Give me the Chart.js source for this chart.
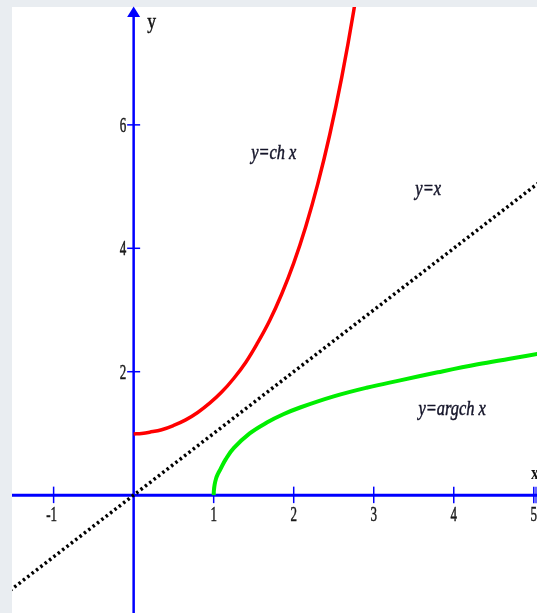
<!DOCTYPE html>
<html>
<head>
<meta charset="utf-8">
<script src="https://cdn.jsdelivr.net/npm/chart.js@4"></script>
<style>
html,body{margin:0;padding:0;background:#fff;}
#wrap{position:relative;width:537px;height:613px;overflow:hidden;}
</style>
</head>
<body>
<div id="wrap"><canvas id="c" width="537" height="613"></canvas></div>
<script>
// Values
const chX = [0, 0.1, 0.2, 0.35, 0.5, 0.65, 0.8, 0.95, 1.1, 1.25, 1.4, 1.55, 1.7, 1.85, 2.0, 2.15, 2.3, 2.45, 2.6, 2.75, 2.9];
const chY = [0.99, 1.0, 1.02, 1.06, 1.13, 1.22, 1.34, 1.49, 1.67, 1.89, 2.15, 2.47, 2.83, 3.26, 3.76, 4.35, 5.04, 5.84, 6.77, 7.85, 9.1];
const argchX = [1, 1.003, 1.012, 1.03, 1.055, 1.08, 1.15, 1.25, 1.45, 1.67, 1.87, 2.08, 2.5, 2.91, 3.33, 3.8, 4.3, 4.7, 5.1];
const argchY = [0, 0.08, 0.17, 0.27, 0.35, 0.41, 0.58, 0.76, 1.0, 1.18, 1.31, 1.42, 1.60, 1.74, 1.86, 1.99, 2.12, 2.21, 2.30];
const idX = [-1.6, 5.1];
const idY = [-1.6, 5.1];
const xTicks = [-1, 1, 2, 3, 4, 5];
const yTicks = [2, 4, 6];
const labels = [
  {text: 'y=ch x', x: 1.75, y: 5.53},
  {text: 'y=x', x: 3.68, y: 4.96},
  {text: 'y=argch x', x: 3.98, y: 1.39}
];

const pts = (xs, ys) => xs.map((x, i) => ({x: x, y: ys[i]}));

const bgPlugin = {
  id: 'bg',
  beforeDraw(chart) {
    const ctx = chart.ctx, a = chart.chartArea;
    ctx.save();
    ctx.fillStyle = '#e9edf1';
    ctx.fillRect(0, 0, chart.width, chart.height);
    ctx.fillStyle = '#ffffff';
    ctx.fillRect(a.left, a.top, a.right - a.left, a.bottom - a.top);
    ctx.restore();
  }
};

function scaledText(ctx, text, x, y, font, sx, align, thick) {
  ctx.save();
  ctx.font = font;
  ctx.translate(x, y);
  ctx.scale(sx, 1);
  ctx.textAlign = align || 'center';
  ctx.textBaseline = 'middle';
  ctx.fillText(text, 0, 0);
  if (thick) {
    ctx.strokeStyle = ctx.fillStyle;
    ctx.lineWidth = thick;
    ctx.strokeText(text, 0, 0);
  }
  ctx.restore();
}

const axesPlugin = {
  id: 'axes',
  beforeDatasetsDraw(chart) {
    const ctx = chart.ctx, xs = chart.scales.x, ys = chart.scales.y, a = chart.chartArea;
    const x0 = xs.getPixelForValue(0), y0 = ys.getPixelForValue(0);
    ctx.save();
    ctx.strokeStyle = '#0000ff';
    ctx.fillStyle = '#0000ff';
    // x axis
    ctx.lineWidth = 3;
    ctx.beginPath(); ctx.moveTo(a.left, y0); ctx.lineTo(chart.width, y0); ctx.stroke();
    // y axis
    ctx.lineWidth = 2.5;
    ctx.beginPath(); ctx.moveTo(x0, chart.height); ctx.lineTo(x0, a.top + 8); ctx.stroke();
    // arrow head
    ctx.beginPath();
    ctx.moveTo(x0, a.top - 0.5);
    ctx.lineTo(x0 - 6.5, a.top + 10);
    ctx.lineTo(x0 + 6.5, a.top + 10);
    ctx.closePath(); ctx.fill();
    // ticks
    ctx.lineWidth = 1.5;
    xTicks.forEach(v => {
      const px = xs.getPixelForValue(v);
      ctx.beginPath(); ctx.moveTo(px, y0 - 8.5); ctx.lineTo(px, y0 + 8); ctx.stroke();
    });
    yTicks.forEach(v => {
      const py = ys.getPixelForValue(v);
      ctx.beginPath(); ctx.moveTo(x0 - 6.5, py); ctx.lineTo(x0 + 6.5, py); ctx.stroke();
    });
    ctx.lineWidth = 1.2;
    ctx.beginPath(); ctx.moveTo(536, y0 - 8.5); ctx.lineTo(536, y0 + 8); ctx.stroke();
    // tick labels
    ctx.fillStyle = '#1a1a1a';
    xTicks.forEach(v => {
      const px = xs.getPixelForValue(v);
      scaledText(ctx, String(v), px - (v < 0 ? 2 : 0), y0 + 20, '21px "Liberation Serif"', 0.62, 'center', 0.5);
    });
    yTicks.forEach(v => {
      const py = ys.getPixelForValue(v);
      scaledText(ctx, String(v), x0 - 7.5, py + 1.5, '21px "Liberation Serif"', 0.62, 'right', 0.5);
    });
    // axis names
    ctx.fillStyle = '#111111';
    scaledText(ctx, 'y', x0 + 18, a.top + 15, '22px "Liberation Serif"', 0.8, 'center', 0.5);
    scaledText(ctx, 'x', 531, y0 - 21, 'bold 18px "Liberation Serif"', 0.85, 'left');
    ctx.restore();
  },
  afterDatasetsDraw(chart) {
    const ctx = chart.ctx, xs = chart.scales.x, ys = chart.scales.y;
    ctx.save();
    ctx.fillStyle = '#15152a';
    labels.forEach(l => {
      scaledText(ctx, l.text, xs.getPixelForValue(l.x), ys.getPixelForValue(l.y),
        'italic 21px "Liberation Serif"', 0.78, 'center', 0.5);
    });
    ctx.restore();
  }
};

new Chart(document.getElementById('c'), {
  type: 'scatter',
  data: {
    datasets: [
      {data: pts(idX, idY), showLine: true, borderColor: '#000000', borderWidth: 3.5,
       borderDash: [2.5, 3], pointRadius: 0, fill: false},
      {data: pts(chX, chY), showLine: true, borderColor: '#ff0000', borderWidth: 3.5,
       pointRadius: 0, tension: 0.4, fill: false},
      {data: pts(argchX, argchY), showLine: true, borderColor: '#00ee00', borderWidth: 4,
       pointRadius: 0, tension: 0.4, fill: false}
    ]
  },
  options: {
    responsive: false,
    animation: false,
    devicePixelRatio: 1,
    layout: {padding: {left: 12, top: 7, right: 0, bottom: 0}},
    plugins: {legend: {display: false}, tooltip: {enabled: false}},
    scales: {
      x: {type: 'linear', min: -1.52, max: 5.04, display: false},
      y: {type: 'linear', min: -1.91, max: 7.91, display: false}
    }
  },
  plugins: [bgPlugin, axesPlugin]
});
</script>
</body>
</html>
